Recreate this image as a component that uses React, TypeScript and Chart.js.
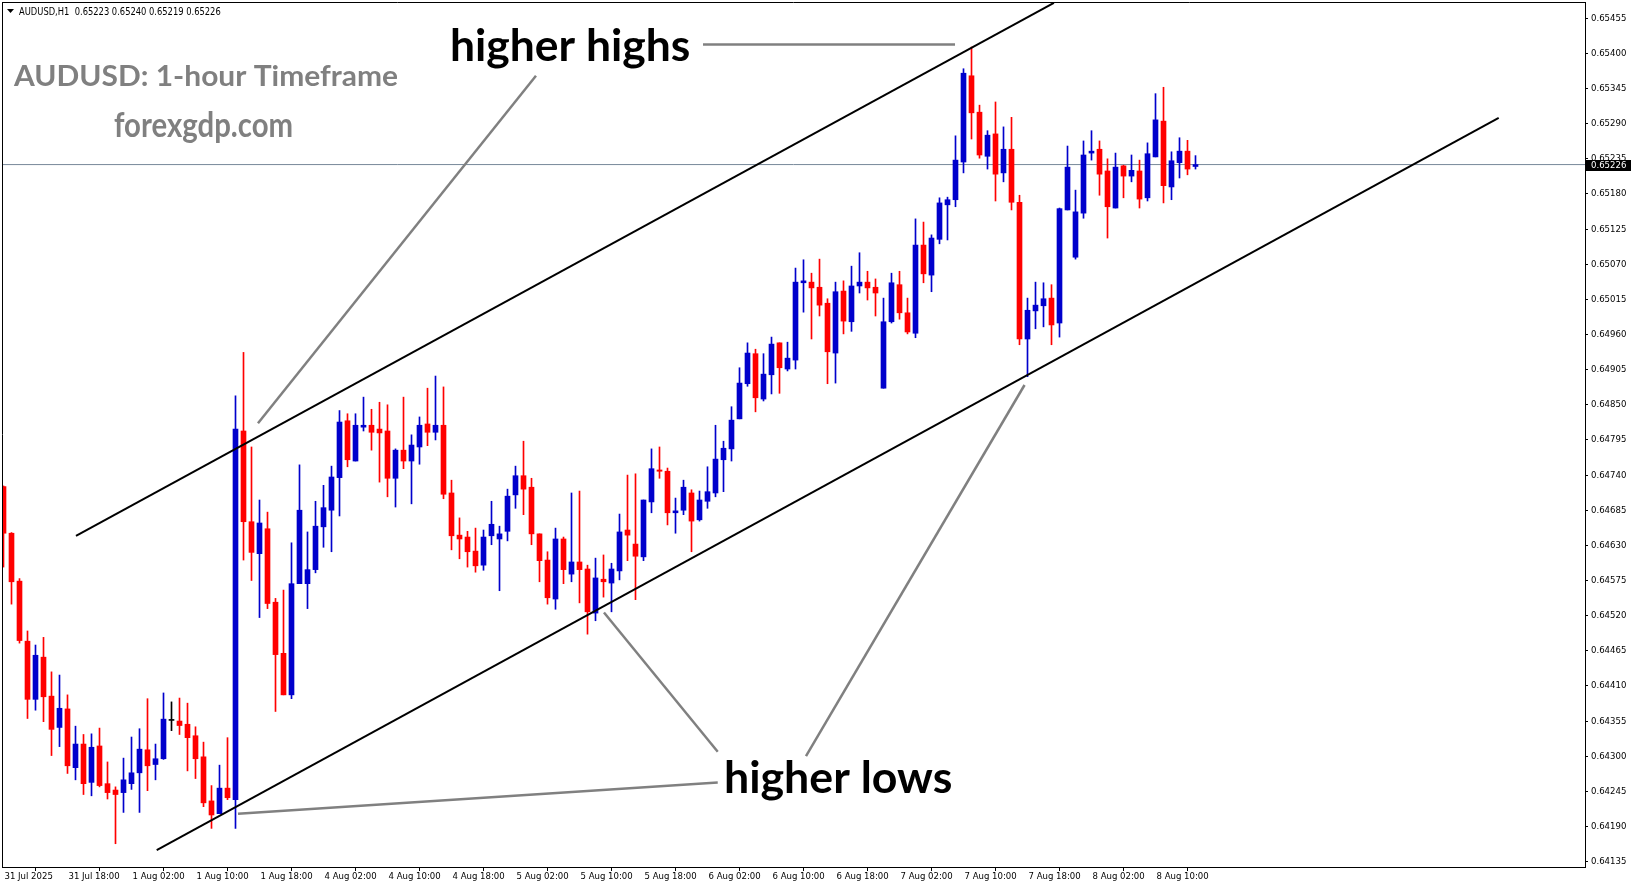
import React, { useEffect, useRef } from "react";
import { Chart, registerables } from "chart.js";

Chart.register(...registerables);

// ---- Data (AUDUSD H1, bars from 31 Jul 2025 10:00) ----
const opens = [
  0.64722, 0.64649, 0.64574, 0.6448, 0.64389, 0.64455, 0.64394, 0.64345, 0.64374, 0.64282,
  0.64319, 0.64259, 0.64316, 0.64257, 0.64247, 0.64243, 0.64257, 0.64274, 0.6431, 0.64287,
  0.64296, 0.64356, 0.64355, 0.6435, 0.64332, 0.64299, 0.6423, 0.6421, 0.6425, 0.64232,
  0.64809, 0.64667, 0.64617, 0.64656, 0.64541, 0.64461, 0.64396, 0.6457, 0.6457, 0.64592,
  0.64659, 0.64685, 0.64736, 0.64825, 0.64762, 0.64815, 0.64818, 0.64812, 0.64809, 0.64735,
  0.64779, 0.64762, 0.64784, 0.6482, 0.64807, 0.64818, 0.64712, 0.64646, 0.64643, 0.64621,
  0.64599, 0.64645, 0.6464, 0.64652, 0.64709, 0.64739, 0.64721, 0.64648, 0.64607, 0.64546,
  0.6464, 0.64585, 0.64604, 0.64593, 0.64524, 0.64577, 0.64571, 0.6459, 0.64654, 0.64632,
  0.64612, 0.64698, 0.64748, 0.64746, 0.64681, 0.64685, 0.64712, 0.6467, 0.64699, 0.64712,
  0.64764, 0.64781, 0.64828, 0.64883, 0.6493, 0.64859, 0.64897, 0.64947, 0.64906, 0.6492,
  0.65041, 0.65042, 0.65034, 0.65009, 0.64931, 0.65028, 0.6498, 0.65036, 0.65042, 0.65034,
  0.64876, 0.6498, 0.65038, 0.64994, 0.64962, 0.651, 0.65053, 0.65109, 0.65163, 0.65171,
  0.6523, 0.65365, 0.65308, 0.65239, 0.65274, 0.65213, 0.6525, 0.65167, 0.64953, 0.64997,
  0.65005, 0.65017, 0.64978, 0.65155, 0.65081, 0.6515, 0.65244, 0.6525, 0.65216, 0.65158,
  0.65224, 0.65208, 0.65216, 0.65174, 0.65238, 0.65294, 0.65191, 0.65229, 0.65247, 0.65223,
];
const highs = [
  0.64723, 0.6465, 0.64578, 0.64496, 0.64474, 0.64486, 0.64432, 0.64427, 0.64396, 0.64347,
  0.64334, 0.64335, 0.64344, 0.64291, 0.64252, 0.64297, 0.6433, 0.64343, 0.6439, 0.64319,
  0.64399, 0.64385, 0.64391, 0.64383, 0.64346, 0.64322, 0.64254, 0.64286, 0.64329, 0.64864,
  0.64932, 0.64784, 0.64701, 0.64682, 0.64547, 0.6456, 0.64634, 0.64756, 0.64651, 0.64699,
  0.64724, 0.64754, 0.64841, 0.64836, 0.64836, 0.64862, 0.64843, 0.64854, 0.6485, 0.64781,
  0.64862, 0.64803, 0.64831, 0.64876, 0.64895, 0.64878, 0.64732, 0.64673, 0.64652, 0.64657,
  0.64654, 0.64699, 0.6466, 0.64718, 0.64754, 0.64793, 0.64735, 0.64648, 0.6462, 0.64657,
  0.64643, 0.64712, 0.64715, 0.64599, 0.6461, 0.64615, 0.64602, 0.64679, 0.6474, 0.64742,
  0.64701, 0.64781, 0.64784, 0.64751, 0.64704, 0.64732, 0.64717, 0.64715, 0.64753, 0.64818,
  0.64793, 0.64847, 0.64908, 0.64947, 0.64937, 0.6493, 0.64956, 0.64947, 0.64948, 0.65064,
  0.65077, 0.65056, 0.65078, 0.65016, 0.65042, 0.65044, 0.65067, 0.65088, 0.65059, 0.65047,
  0.65017, 0.65056, 0.65059, 0.65017, 0.65141, 0.65136, 0.65116, 0.65174, 0.65175, 0.65271,
  0.65376, 0.6541, 0.65319, 0.65279, 0.65324, 0.65285, 0.653, 0.65178, 0.65017, 0.65042,
  0.65041, 0.65038, 0.65158, 0.65255, 0.65186, 0.65263, 0.65279, 0.65263, 0.65235, 0.65244,
  0.65225, 0.65241, 0.65233, 0.6526, 0.65337, 0.65347, 0.65246, 0.65268, 0.65264, 0.6524,
];
const lows = [
  0.64596, 0.64538, 0.64477, 0.64359, 0.64372, 0.64354, 0.64301, 0.64315, 0.64273, 0.64263,
  0.6424, 0.64238, 0.64252, 0.64233, 0.64163, 0.64212, 0.64248, 0.64212, 0.64246, 0.64263,
  0.64295, 0.6434, 0.64334, 0.64277, 0.64265, 0.64221, 0.64187, 0.6421, 0.64232, 0.64187,
  0.64607, 0.64575, 0.64517, 0.64531, 0.6437, 0.64396, 0.6439, 0.6457, 0.64531, 0.64587,
  0.64627, 0.6462, 0.64676, 0.64753, 0.64762, 0.64809, 0.64779, 0.64729, 0.64706, 0.6469,
  0.6475, 0.64695, 0.64757, 0.64786, 0.64795, 0.64703, 0.64623, 0.64609, 0.64596, 0.64588,
  0.64591, 0.64631, 0.64559, 0.64637, 0.64688, 0.64678, 0.64631, 0.64573, 0.64538, 0.6453,
  0.6457, 0.64573, 0.6454, 0.64491, 0.64512, 0.64549, 0.64526, 0.64576, 0.64606, 0.64545,
  0.64606, 0.64681, 0.64735, 0.64662, 0.64649, 0.64678, 0.6462, 0.64668, 0.64688, 0.64706,
  0.64714, 0.64762, 0.64828, 0.64879, 0.64839, 0.64856, 0.64867, 0.64868, 0.64903, 0.64906,
  0.64995, 0.64953, 0.64989, 0.64883, 0.64884, 0.64961, 0.64965, 0.65025, 0.65014, 0.64989,
  0.64876, 0.64978, 0.64984, 0.64961, 0.64955, 0.65041, 0.65027, 0.65102, 0.65108, 0.6516,
  0.65213, 0.65266, 0.65236, 0.65219, 0.65169, 0.65199, 0.65155, 0.64944, 0.64894, 0.64969,
  0.64972, 0.64944, 0.64956, 0.65155, 0.65078, 0.65142, 0.65233, 0.65178, 0.65111, 0.65158,
  0.65174, 0.65199, 0.65158, 0.65169, 0.65238, 0.65166, 0.65171, 0.65205, 0.6521, 0.65219,
];
const closes = [
  0.64649, 0.64573, 0.64481, 0.64389, 0.64458, 0.64393, 0.64342, 0.64375, 0.64285, 0.64319,
  0.64257, 0.64314, 0.64254, 0.64243, 0.6424, 0.64263, 0.64274, 0.64311, 0.64285, 0.64296,
  0.64358, 0.64356, 0.64348, 0.64329, 0.64296, 0.64227, 0.64208, 0.6425, 0.64235, 0.64812,
  0.64667, 0.64619, 0.64665, 0.64539, 0.64459, 0.64396, 0.6457, 0.64685, 0.64592, 0.6466,
  0.64689, 0.64737, 0.64823, 0.64764, 0.64818, 0.64818, 0.64807, 0.64806, 0.64735, 0.64779,
  0.64762, 0.64787, 0.64818, 0.64807, 0.64818, 0.6471, 0.64645, 0.6464, 0.6462, 0.64598,
  0.64643, 0.64663, 0.64648, 0.64707, 0.64739, 0.64718, 0.64648, 0.64606, 0.64548, 0.6464,
  0.64592, 0.64604, 0.64592, 0.64526, 0.64579, 0.64573, 0.64593, 0.64651, 0.64646, 0.64613,
  0.64701, 0.6475, 0.64746, 0.64681, 0.64684, 0.64721, 0.64668, 0.64701, 0.64714, 0.64765,
  0.64782, 0.64826, 0.64884, 0.64931, 0.64861, 0.64898, 0.64945, 0.64908, 0.64923, 0.65042,
  0.65044, 0.65033, 0.65006, 0.64933, 0.65027, 0.64981, 0.65036, 0.65042, 0.65033, 0.65025,
  0.6498, 0.65041, 0.64994, 0.64964, 0.651, 0.65055, 0.65111, 0.65166, 0.65171, 0.65233,
  0.65369, 0.65307, 0.65241, 0.65272, 0.65211, 0.6525, 0.65167, 0.64953, 0.64998, 0.65006,
  0.65016, 0.64975, 0.65157, 0.65222, 0.65152, 0.65241, 0.65247, 0.65211, 0.6516, 0.65222,
  0.65208, 0.65217, 0.65172, 0.65243, 0.65296, 0.65193, 0.65232, 0.65247, 0.65219, 0.65226,
];

const xTickIndex = [0, 8, 16, 24, 32, 40, 48, 56, 64, 72, 80, 88, 96, 104, 112, 120, 128, 136, 144];
const xTickLabels = [
  "31 Jul 2025", "31 Jul 18:00", "1 Aug 02:00", "1 Aug 10:00", "1 Aug 18:00", "4 Aug 02:00",
  "4 Aug 10:00", "4 Aug 18:00", "5 Aug 02:00", "5 Aug 10:00", "5 Aug 18:00", "6 Aug 02:00",
  "6 Aug 10:00", "6 Aug 18:00", "7 Aug 02:00", "7 Aug 10:00", "7 Aug 18:00", "8 Aug 02:00", "8 Aug 10:00",
];
const yTickValues = [
  0.64135, 0.6419, 0.64245, 0.643, 0.64355, 0.6441, 0.64465, 0.6452, 0.64575, 0.6463, 0.64685,
  0.6474, 0.64795, 0.6485, 0.64905, 0.6496, 0.65015, 0.6507, 0.65125, 0.6518, 0.65235, 0.6529,
  0.65345, 0.654, 0.65455,
];
const currentPrice = 0.65226;
const headerText = "AUDUSD,H1  0.65223 0.65240 0.65219 0.65226";

// channel lines (bar index, price)
const upperChannel = [{ x: 9.06, y: 0.64645 }, { x: 131.3, y: 0.65479 }];
const lowerChannel = [{ x: 19.15, y: 0.64153 }, { x: 186.9, y: 0.65299 }];
// gray pointer lines
const highsHorizontal = [{ x: 87.44, y: 0.65414 }, { x: 118.94, y: 0.65414 }];
const highsDiagonal = [{ x: 66.56, y: 0.65365 }, { x: 31.81, y: 0.64821 }];
const lowsToAug5 = [{ x: 89.28, y: 0.64307 }, { x: 75.06, y: 0.64525 }];
const lowsToAug7 = [{ x: 100.31, y: 0.643 }, { x: 127.63, y: 0.64881 }];
const lowsToAug1 = [{ x: 89.28, y: 0.64259 }, { x: 29.31, y: 0.6421 }];

const X_MIN = -0.1875;
const X_MAX = 197.6875;
const Y_MIN = 0.6412657;
const Y_MAX = 0.6548047;

const UP = "#0000CC";
const DOWN = "#FF0000";
const DOJI = "#000000";
const AXIS_FONT = "'DejaVu Sans Condensed', 'Liberation Sans', sans-serif";

function candleColor(i: number) {
  if (closes[i] > opens[i]) return UP;
  if (closes[i] < opens[i]) return DOWN;
  return DOJI;
}

function fitText(ctx: CanvasRenderingContext2D, text: string, left: number, baseline: number, font: string, width: number, color: string) {
  ctx.save();
  ctx.font = font;
  ctx.fillStyle = color;
  ctx.textAlign = "left";
  ctx.textBaseline = "alphabetic";
  const m = ctx.measureText(text);
  const ink = m.actualBoundingBoxRight + m.actualBoundingBoxLeft;
  const s = width / ink;
  ctx.translate(left + m.actualBoundingBoxLeft * s, baseline);
  ctx.scale(s, 1);
  ctx.fillText(text, 0, 0);
  ctx.restore();
}

const overlayPlugin = {
  id: "overlay",
  afterDraw(chart: any) {
    const { ctx, chartArea } = chart;
    ctx.save();
    // frame left / top
    ctx.strokeStyle = "#000";
    ctx.lineWidth = 1;
    ctx.beginPath();
    ctx.moveTo(chartArea.left + 0.5, chartArea.top);
    ctx.lineTo(chartArea.left + 0.5, chartArea.bottom);
    ctx.moveTo(chartArea.left, chartArea.top + 0.5);
    ctx.lineTo(chartArea.right, chartArea.top + 0.5);
    ctx.stroke();

    // header
    ctx.fillStyle = "#000";
    ctx.beginPath();
    ctx.moveTo(7, 9);
    ctx.lineTo(14, 9);
    ctx.lineTo(10.5, 13);
    ctx.closePath();
    ctx.fill();
    fitText(ctx, headerText, 19, 14.5, `10px ${AXIS_FONT}`, 202, "#000");

    // titles
    fitText(ctx, "AUDUSD: 1-hour Timeframe", 13, 86, "bold 28px Lato, 'Open Sans', sans-serif", 385, "#808080");
    fitText(ctx, "forexgdp.com", 114, 136.5, "bold 35px Lato, 'Open Sans', sans-serif", 178, "#808080");
    fitText(ctx, "higher highs", 452, 60.8, "bold 44px Lato, 'Open Sans', sans-serif", 237, "#000");
    fitText(ctx, "higher lows", 726, 792.5, "bold 44px Lato, 'Open Sans', sans-serif", 225, "#000");

    // current price label
    const py = chart.scales.y.getPixelForValue(currentPrice);
    const top = Math.round(py) - 5;
    ctx.fillStyle = "#000";
    ctx.fillRect(chartArea.right + 1, top, 45, 11);
    ctx.fillStyle = "#fff";
    ctx.font = `9.5px ${AXIS_FONT}`;
    ctx.textAlign = "left";
    ctx.textBaseline = "middle";
    ctx.fillText(currentPrice.toFixed(5), chartArea.right + 6, top + 5.5);
    ctx.restore();
  },
};

export default function App() {
  const ref = useRef<HTMLCanvasElement>(null);
  useEffect(() => {
    document.body.style.margin = "0";
    const canvas = ref.current;
    if (!canvas) return;
    const idx = opens.map((_, i) => i);
    const colors = idx.map(candleColor);
    const lineDs = (data: any[], color: string, width: number) => ({
      type: "line" as const,
      data,
      borderColor: color,
      borderWidth: width,
      pointRadius: 0,
      fill: false,
      order: 0,
    });
    const chart = new Chart(canvas, {
      type: "bar",
      data: {
        datasets: [
          lineDs(upperChannel, "#000", 2),
          lineDs(lowerChannel, "#000", 2),
          lineDs(highsHorizontal, "#808080", 2.5),
          lineDs(highsDiagonal, "#808080", 2.5),
          lineDs(lowsToAug5, "#808080", 2.5),
          lineDs(lowsToAug7, "#808080", 2.5),
          lineDs(lowsToAug1, "#808080", 2.5),
          {
            type: "bar",
            data: idx.map((i) => ({ x: i, y: [Math.min(opens[i], closes[i]), Math.max(opens[i], closes[i])] })),
            backgroundColor: colors,
            barThickness: 5,
            minBarLength: 1,
            grouped: false,
            borderWidth: 0,
            order: 1,
            clip: 0,
          } as any,
          {
            type: "bar",
            data: idx.map((i) => ({ x: i, y: [lows[i], highs[i]] })),
            backgroundColor: colors,
            barThickness: 1,
            grouped: false,
            borderWidth: 0,
            order: 2,
            clip: 0,
          } as any,
          {
            ...lineDs([{ x: X_MIN, y: currentPrice }, { x: X_MAX, y: currentPrice }], "#778899", 1),
            order: 3,
          },
        ],
      },
      options: {
        responsive: false,
        maintainAspectRatio: false,
        devicePixelRatio: 1,
        animation: false,
        events: [],
        layout: { autoPadding: false, padding: { left: 2, top: 2, right: 0, bottom: 0 } },
        plugins: { legend: { display: false }, tooltip: { enabled: false }, title: { display: false } },
        scales: {
          x: {
            type: "linear",
            position: "bottom",
            min: X_MIN,
            max: X_MAX,
            offset: false,
            grid: { display: true, drawOnChartArea: false, drawTicks: true, tickLength: 4, color: "#000", lineWidth: 1 },
            border: { display: true, color: "#000", width: 1 },
            ticks: {
              autoSkip: false,
              maxRotation: 0,
              minRotation: 0,
              align: "start",
              labelOffset: 1,
              padding: 0,
              color: "#000",
              font: { family: AXIS_FONT, size: 9.5 },
              callback: (_v: any, i: number) => xTickLabels[i],
            },
            afterBuildTicks: (s: any) => {
              s.ticks = xTickIndex.map((v) => ({ value: v }));
            },
            afterFit: (s: any) => {
              s.height = 21;
              s.paddingLeft = 0;
              s.paddingRight = 0;
              s.paddingTop = 0;
              s.paddingBottom = 0;
            },
          },
          y: {
            type: "linear",
            position: "right",
            min: Y_MIN,
            max: Y_MAX,
            grid: { display: true, drawOnChartArea: false, drawTicks: true, tickLength: 3, color: "#000", lineWidth: 1 },
            border: { display: true, color: "#000", width: 1 },
            ticks: {
              padding: 3,
              color: "#000",
              font: { family: AXIS_FONT, size: 9.5 },
              callback: (v: any) => Number(v).toFixed(5),
            },
            afterBuildTicks: (s: any) => {
              s.ticks = yTickValues.map((v) => ({ value: v }));
            },
            afterFit: (s: any) => {
              s.width = 46;
              s.paddingTop = 0;
              s.paddingBottom = 0;
              s.paddingLeft = 0;
              s.paddingRight = 0;
            },
          },
        },
      } as any,
      plugins: [overlayPlugin],
    });
    return () => chart.destroy();
  }, []);
  return (
    <canvas
      ref={ref}
      width={1631}
      height={888}
      style={{ display: "block", width: "1631px", height: "888px" }}
    />
  );
}
